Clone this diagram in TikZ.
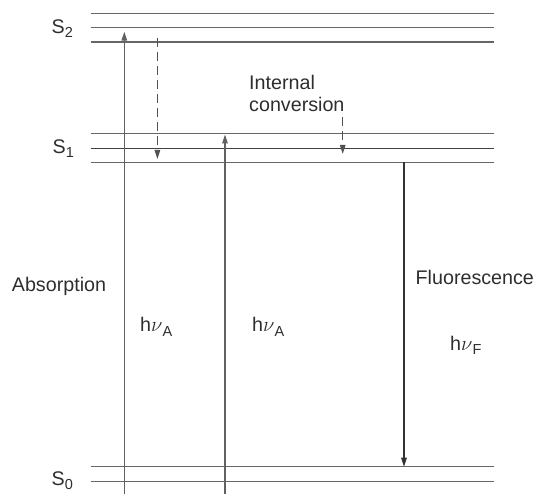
\documentclass[tikz,border=0pt]{standalone}
\usepackage{fontspec}
\setmainfont{Liberation Sans}
\usetikzlibrary{arrows.meta}

% subscript set slightly below the baseline, in the text font
\newcommand{\lowsub}[1]{\raisebox{-0.42ex}{\fontsize{14.5}{14.5}\selectfont #1}}

\begin{document}
\begin{tikzpicture}[x=1pt,y=-1pt,
  level/.style={draw=black!60,line width=1.5pt},
  midlevel/.style={draw=black!75,line width=1.5pt},
  trans/.style={draw=black!62,line width=1.4pt,-{Triangle[length=9pt,width=5.5pt]}},
  emis/.style={draw=black!80,line width=1.3pt,-{Triangle[length=9pt,width=5.5pt]}},
  nonrad/.style={draw=black!68,line width=1.2pt,dash pattern=on 9pt off 5pt,-{Triangle[length=9pt,width=5.5pt]}},
  lbl/.style={anchor=base west,inner sep=0pt,font=\fontsize{19.7}{21.7}\selectfont,text=black!82}]

\useasboundingbox (0,0) rectangle (538,494);

% vibrational levels of S2, S1 and S0
\foreach \nm/\yy in {a/13.3,b/27.7,c/42,d/133.3,e/148.3,f/162.3,g/466.7,h/481.7}{
  \coordinate (L\nm w) at (90.7,\yy);
  \coordinate (L\nm e) at (494.3,\yy);
}
\foreach \nm in {a,b,c,d,f,g,h}{ \draw[level] (L\nm w) -- (L\nm e); }
\draw[midlevel] (Lew) -- (Lee);

% state labels
\node[lbl] (s2) at (51.5,33.5) {S\lowsub{2}};
\node[lbl] (s1) at (52.5,153.3) {S\lowsub{1}};
\node[lbl] (s0) at (51.5,485) {S\lowsub{0}};

% absorption into S2 and S1
\coordinate (a1b) at (124.3,494);
\coordinate (a1t) at (124.3,31.7);
\draw[trans] (a1b) -- (a1t);
\coordinate (a2b) at (225,494);
\coordinate (a2t) at (225,134.5);
\draw[trans] (a2b) -- (a2t);

% internal conversion
\coordinate (ic1t) at (157.4,37.7);
\coordinate (ic1b) at (157.4,159);
\draw[nonrad] (ic1t) -- (ic1b);
\coordinate (ic2t) at (342.7,117);
\coordinate (ic2b) at (342.7,154);
\draw[nonrad] (ic2t) -- (ic2b);

% fluorescence back to S0
\coordinate (ft) at (404,162.3);
\coordinate (fb) at (404,466.7);
\draw[emis] (ft) -- (fb);

% text labels
\node[lbl] (abs) at (11.7,291.7) {Absorption};
\node[lbl] (int) at (249,90) {Internal};
\node[lbl] (conv) at (249,111.7) {conversion};
\node[lbl] (flu) at (415.5,285) {Fluorescence};
\node[lbl] (hA1) at (140,331.7) {h$\nu$\lowsub{A}};
\node[lbl] (hA2) at (252,331.7) {h$\nu$\lowsub{A}};
\node[lbl] (hF) at (450,350) {h$\nu$\lowsub{F}};
\end{tikzpicture}
\end{document}
